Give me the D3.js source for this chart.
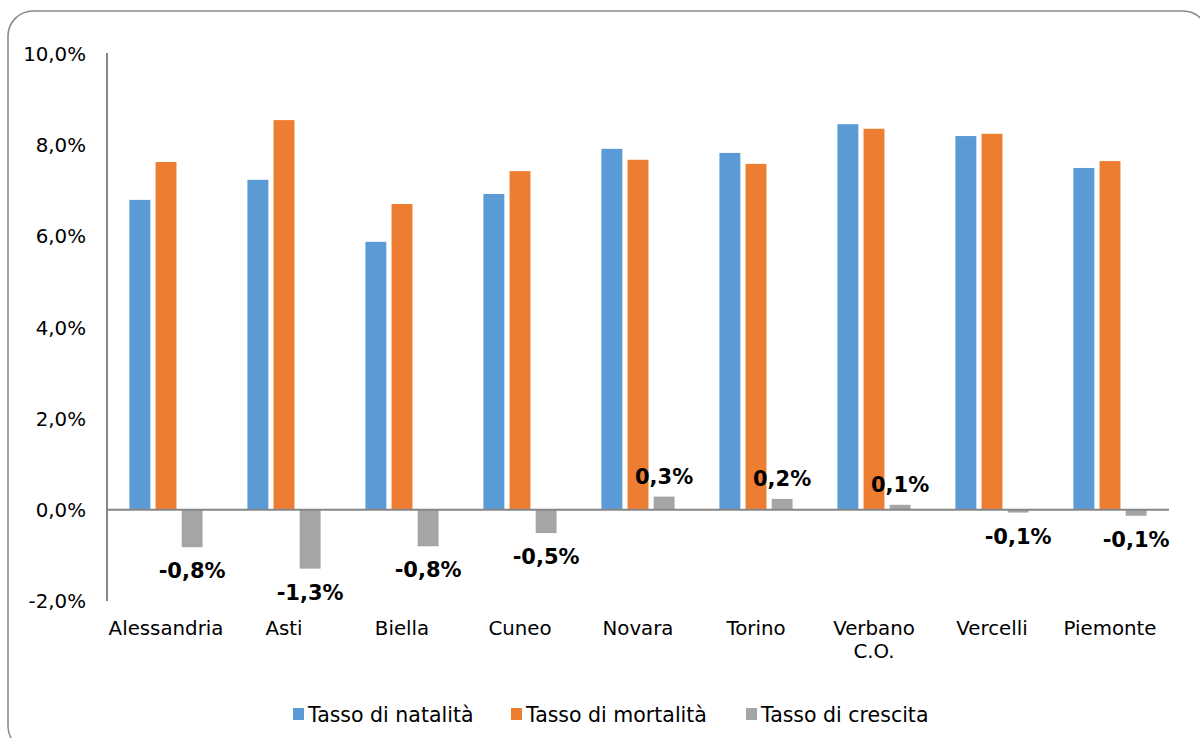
<!DOCTYPE html>
<html>
<head>
<meta charset="utf-8">
<script src="https://cdn.jsdelivr.net/npm/d3@7"></script>
<style>
  html, body { margin: 0; padding: 0; background: #fff; }
  svg { display: block; }
  text { font-family: "DejaVu Sans", Verdana, sans-serif; }
</style>
</head>
<body>
<svg id="chart" width="1200" height="738"></svg>
<script>
const categories = ["Alessandria", "Asti", "Biella", "Cuneo", "Novara", "Torino", "Verbano\nC.O.", "Vercelli", "Piemonte"];
const seriesNames = ["Tasso di natalità", "Tasso di mortalità", "Tasso di crescita"];
const natalita  = [6.80, 7.24, 5.88, 6.93, 7.92, 7.83, 8.46, 8.20, 7.50];
const mortalita = [7.63, 8.55, 6.71, 7.43, 7.68, 7.59, 8.36, 8.25, 7.65];
const crescita  = [-0.82, -1.29, -0.80, -0.51, 0.29, 0.24, 0.11, -0.06, -0.13];
const yTicks = [-2, 0, 2, 4, 6, 8, 10];
const colors = ["#5B9BD5", "#ED7D31", "#A5A5A5"];

const seriesValues = [natalita, mortalita, crescita];
const fmt = v => d3.format(".1f")(v).replace(".", ",").replace("−", "-") + "%";

const svg = d3.select("#chart");

// outer rounded border
svg.append("rect")
  .attr("x", 8).attr("y", 11).attr("width", 1200).attr("height", 740)
  .attr("rx", 25).attr("ry", 25)
  .attr("fill", "#fff").attr("stroke", "#8a8a8a").attr("stroke-width", 1.6);

const x0 = d3.scaleBand().domain(categories).range([107, 1169]).paddingInner(0.38).paddingOuter(0.19);
const x1 = d3.scaleBand().domain(d3.range(3)).range([0, x0.bandwidth()]).paddingInner(0.2).paddingOuter(0);
const y = d3.scaleLinear().domain([-2, 10]).range([601, 54]);

// y tick labels
svg.append("g").selectAll("text").data(yTicks).join("text")
  .attr("x", 86).attr("y", d => y(d)).attr("dy", "0.36em")
  .attr("text-anchor", "end").attr("font-size", 19.8).attr("fill", "#000")
  .text(d => fmt(d));

// bars
const groups = svg.append("g").selectAll("g").data(categories).join("g")
  .attr("transform", d => `translate(${x0(d)},0)`);

groups.selectAll("rect").data((c, i) => seriesValues.map((s, k) => ({k, v: s[i]}))).join("rect")
  .attr("x", d => x1(d.k)).attr("width", x1.bandwidth())
  .attr("y", d => y(Math.max(0, d.v)))
  .attr("height", d => Math.abs(y(d.v) - y(0)))
  .attr("fill", d => colors[d.k]);

// axes lines
svg.append("line").attr("x1", 107).attr("x2", 107).attr("y1", y(10) - 1).attr("y2", y(-2))
  .attr("stroke", "#868686").attr("stroke-width", 2);
svg.append("line").attr("x1", 107).attr("x2", 1169).attr("y1", y(0)).attr("y2", y(0))
  .attr("stroke", "#868686").attr("stroke-width", 2);

// data labels for crescita
svg.append("g").selectAll("text").data(categories).join("text")
  .attr("x", (c) => x0(c) + x1(2) + x1.bandwidth() / 2)
  .attr("y", (c, i) => crescita[i] >= 0 ? y(crescita[i]) - 13 : y(crescita[i]) + 31)
  .attr("text-anchor", "middle").attr("font-size", 21).attr("font-weight", "bold").attr("fill", "#000")
  .text((c, i) => fmt(crescita[i]));

// category labels
const cl = svg.append("g").selectAll("text").data(categories).join("text")
  .attr("x", c => x0(c) + x0.bandwidth() / 2)
  .attr("y", 635)
  .attr("text-anchor", "middle").attr("font-size", 19.8).attr("fill", "#000");
cl.each(function(c) {
  const lines = c.split("\n");
  const t = d3.select(this);
  lines.forEach((ln, j) => {
    t.append("tspan").attr("x", t.attr("x")).attr("dy", j === 0 ? 0 : 23).text(ln);
  });
});

// legend
const legendX = [293, 511, 746];
const lg = svg.append("g").selectAll("g").data(seriesNames).join("g")
  .attr("transform", (d, i) => `translate(${legendX[i]},0)`);
lg.append("rect").attr("x", 0).attr("y", 708).attr("width", 11).attr("height", 12)
  .attr("fill", (d, i) => colors[i]);
lg.append("text").attr("x", 15).attr("y", 722).attr("font-size", 20.5).attr("fill", "#000")
  .text(d => d);
</script>
</body>
</html>
